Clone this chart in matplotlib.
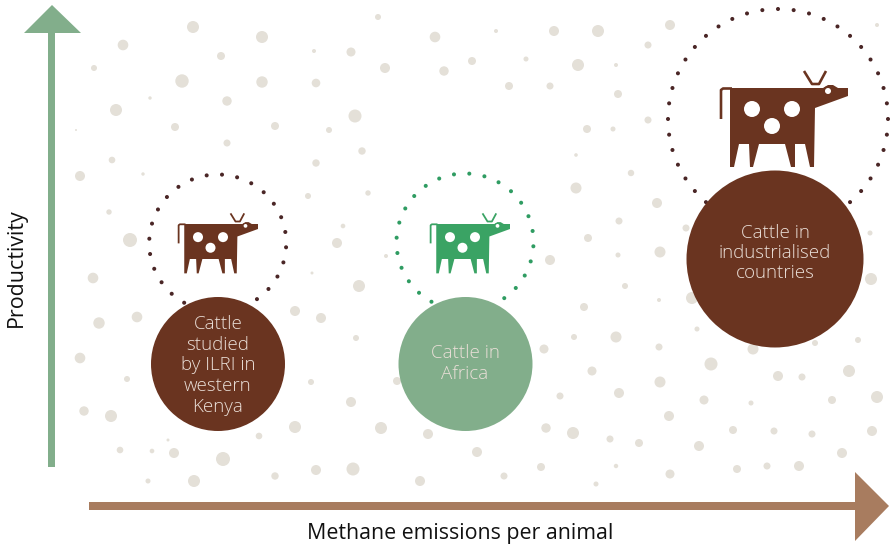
import numpy as np
import matplotlib
matplotlib.use('Agg')
import matplotlib.pyplot as plt
from matplotlib.patches import Circle, Polygon

plt.rcParams['font.family'] = ['Open Sans', 'DejaVu Sans']

#background dots (px position and radius)
dot_x = [193,262,123,221,94,314,351,378,435,385,444,182,262,316,150,227,116,355,175,275,329,227,362,112,316,80,143,308,368,109,130,343,337,386,312,76,
         93,359,295,321,99,137,356,80,127,311,397,351,84,111,295,381,428,259,168,120,152,174,223,316,353,275,148,194,420,
         496,554,598,670,648,472,526,578,616,509,550,618,587,613,648,877,576,631,576,657,619,588,686,550,660,618,870,
         871,625,584,659,692,697,574,616,544,659,753,815,858,711,592,778,802,849,660,619,560,704,751,832,877,669,546,573,733,774,812,872,610,639,699,477,842,616,541,737,767,799,504,670,596]
dot_y = [27,37,45,56,68,51,52,17,37,68,71,81,82,83,98,101,110,116,127,126,130,143,151,160,163,176,174,196,193,212,240,226,243,256,273,130,
         278,286,311,318,323,317,338,358,379,382,381,402,411,416,427,428,434,436,440,450,451,453,459,470,469,476,481,481,481,
         31,31,31,25,45,61,59,65,65,86,86,94,129,129,120,25,155,173,188,203,221,238,228,260,252,255,233,
         279,286,307,300,298,329,337,337,349,347,349,343,340,364,371,376,377,371,382,393,396,400,403,400,397,416,428,433,430,431,434,431,439,443,446,452,453,466,467,469,466,466,476,474,484]
dot_r = [6,6,5.3,4,3,2,4.5,3,5.3,5,4.7,6.7,5.7,4.3,1.7,4.7,6,6.5,4,4,3,3.5,3.7,3.3,3.7,5,1.7,3,2.7,2.7,7,2.3,5,2,1.5,1,
         5.3,6,5,5,5.7,5.3,3,5.3,3,3,4,5,4.7,6,6,6,5,3.3,1.5,3.3,2.3,5,7,5,6.5,3.7,2.5,6,5,
         2,5,6,5,3.5,4,2.5,6,2,4,3.5,4,4,2.5,3.5,2,1.8,3.2,5.5,5,3.5,4,3.5,5,5.5,2.5,2.5,
         6,3,4,2,6,2.5,3,5.5,4.5,3.5,5.5,3,3,6.5,4.5,5,3.5,6,5.5,5,3.5,4.5,2.5,4,6,5,4.7,6,4,3.5,3.5,5,3.5,4,5,5,5,2.2,4,4,3.5,5,3.5,4.5,2.5]

#the three groups
labels = ['Cattle\nstudied\nby ILRI in\nwestern\nKenya', 'Cattle in\nAfrica', 'Cattle in\nindustrialised\ncountries']
circle_x = [218, 465.5, 775]
circle_y = [364, 364, 259]
circle_r = [67, 67, 88.5]
ring_x = [217.7, 465, 778]
ring_y = [243, 242, 119]
ring_r = [68.5, 68.5, 110]
ring_n = [28, 28, 44]
ring_start = [3.6, 3.6, 0]
cow_x = [178, 430, 720]
cow_y = [224, 224, 88]
cow_scale = [0.625, 0.625, 1.0]

brown = '#6a3420'
green = '#82ae8b'
circle_col = [brown, green, brown]
cow_col = [brown, '#3aa364', brown]
ring_col = ['#4a2626', '#2f9c62', '#4a2626']
arrow_green = '#82ae8b'
arrow_brown = '#a87c5f'
text_col = '#eadfd8'

#cow outline, measured on the large cow, origin = tail top left
body = [(10,0),(103,0),(108,-3),(113,-3),(118,0),(128,0),(128,8),(95,20),(94,79),(90,79),(85,56),(75,56),(75,79),(71,79),(65,56),(39,56),(33,79),(30,79),(29,56),(19,56),(14,79),(10,79)]
spots = [(32,21),(72,21),(52,38)]


def draw_cow(ax,x0,y0,s,col):
    pts = [(x0+p[0]*s, y0+p[1]*s) for p in body]
    ax.add_patch(Polygon(pts, closed=True, fc=col, ec='none', zorder=3))
    for sx,sy in spots:
        ax.add_patch(Circle((x0+sx*s, y0+sy*s), 8*s, fc='white', ec='none', zorder=4))
    #eye
    ax.add_patch(Circle((x0+108*s, y0+3*s), 5*s, fc=col, ec='none', zorder=3))
    ax.add_patch(Circle((x0+108*s, y0+3*s), 3*s, fc='white', ec='none', zorder=4))
    #tail
    ax.plot([x0+12*s, x0+3*s, x0+1*s, x0+1*s], [y0+0.5*s, y0+0.5*s, y0+2*s, y0+31*s],
            color=col, lw=2.2*s*0.72+0.3, solid_capstyle='butt', zorder=3)
    #horns
    ax.plot([x0+84*s, x0+92*s, x0+99*s, x0+106*s], [y0-17*s, y0-4*s, y0-4*s, y0-17*s],
            color=col, lw=2.2*s*0.72+0.3, solid_capstyle='butt', zorder=3)


fig = plt.figure(figsize=(8.91,5.47), dpi=100)
ax = fig.add_axes([0,0,1,1])
ax.set_xlim(0,891)
ax.set_ylim(547,0)
ax.axis('off')

for x,y,r in zip(dot_x,dot_y,dot_r):
    ax.add_patch(Circle((x,y), r, fc='#e4e0d8', ec='none', zorder=1))

for i in range(3):
    ang = np.deg2rad(ring_start[i] + np.arange(ring_n[i])*360/ring_n[i])
    for a in ang:
        ax.add_patch(Circle((ring_x[i]+ring_r[i]*np.sin(a), ring_y[i]-ring_r[i]*np.cos(a)), 2.0, fc=ring_col[i], ec='none', zorder=2))
    draw_cow(ax, cow_x[i], cow_y[i], cow_scale[i], cow_col[i])
    ax.add_patch(Circle((circle_x[i],circle_y[i]), circle_r[i], fc=circle_col[i], ec='none', zorder=5))

#circle labels
ax.text(218, 365.5, labels[0], color=text_col, fontsize=13.5, ha='center', va='center', linespacing=1.19, zorder=6, fontweight='light')
ax.text(465, 363.5, labels[1], color=text_col, fontsize=13.5, ha='center', va='center', linespacing=1.19, zorder=6, fontweight='light')
ax.text(775, 253, labels[2], color=text_col, fontsize=13.5, ha='center', va='center', linespacing=1.17, zorder=6, fontweight='light')

#axes arrows
ax.add_patch(Polygon([(48,467),(48,33),(24,33),(52,5),(81,33),(55,33),(55,467)], closed=True, fc=arrow_green, ec='none', zorder=2))
ax.add_patch(Polygon([(89,502),(855,502),(855,472),(889,506),(855,541),(855,510),(89,510)], closed=True, fc=arrow_brown, ec='none', zorder=2))

ax.text(460, 533, 'Methane emissions per animal', color='#111111', fontsize=15.4, ha='center', va='center')
ax.text(16, 268, 'Productivity', color='#111111', fontsize=15.4, ha='center', va='center', rotation=90)

fig.savefig('out.png', dpi=100)
